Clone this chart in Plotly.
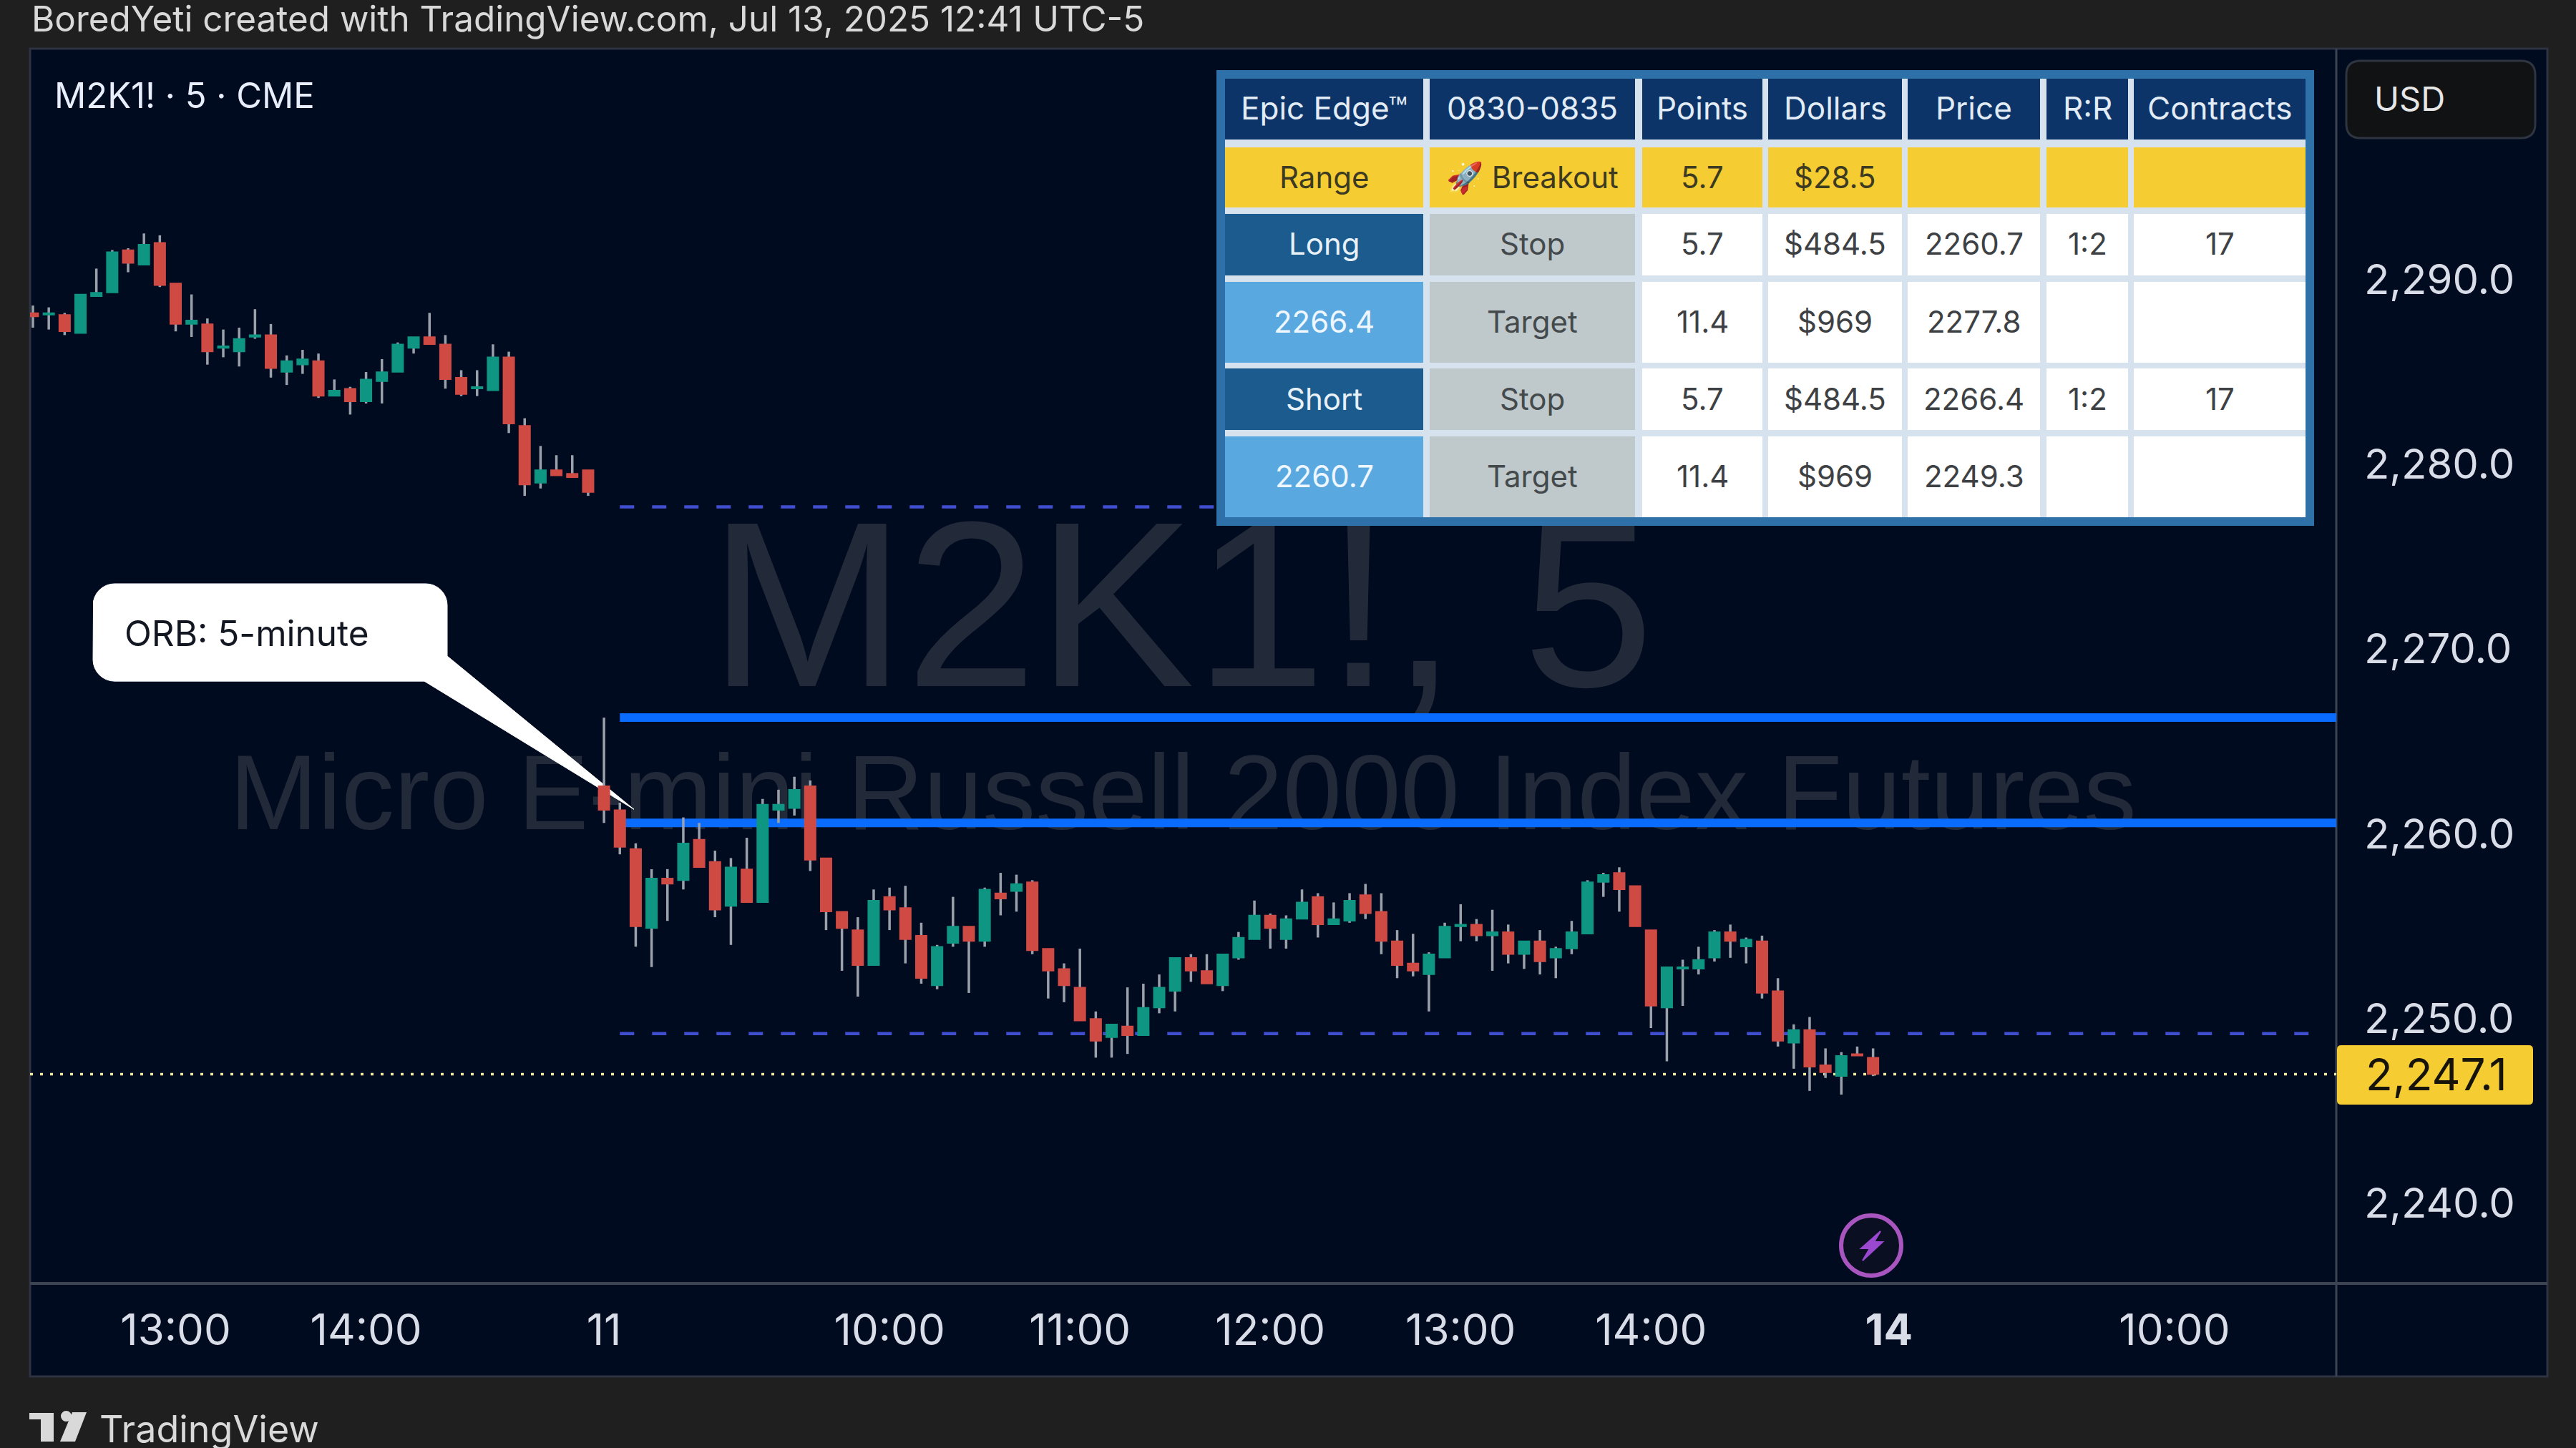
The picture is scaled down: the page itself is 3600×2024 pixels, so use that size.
import math
import plotly.graph_objects as go

bars = list(range(-9, 108))
opens = [2288.3,2288.2,2288.2,2287.2,2289.2,2289.4,2291.7,2290.9,2292.1,2289.9,2287.7,2287.7,2286.4,2286.2,2287.0,2287.1,2285.1,2285.5,2285.7,2283.8,2284.2,2283.5,2284.6,2285.1,2286.4,2287.0,2286.6,2284.8,2284.2,2284.1,2285.9,2282.2,2279.1,2279.8,2279.6,2279.8,
 2262.7,2261.4,2259.3,2255.0,2257.7,2257.6,2259.8,2258.6,2256.2,2258.2,2256.4,2261.4,2261.5,2262.7,2258.8,2255.9,2254.9,2253.0,2256.7,2256.1,2254.6,2251.9,2254.2,2255.1,2254.3,2256.9,2257.0,2257.5,2253.9,2252.8,2251.8,2250.1,2249.1,2249.7,2249.2,2250.7,2251.6,2253.4,2252.7,
 2251.9,2253.4,2254.4,2255.7,2254.4,2255.5,2256.7,2255.2,2255.4,2256.8,2255.9,2254.3,2253.1,2252.5,2253.4,2255.1,2255.2,2254.6,2254.8,2253.6,2254.3,2253.4,2253.9,2254.7,2257.5,2258.0,2257.3,2254.9,2250.7,2252.8,2252.8,2253.4,2254.8,2254.0,2254.3,2251.6,2248.8,2249.5,2247.6,2247.0,2248.2,2248.0]
highs = [2288.7,2288.6,2288.3,2289.3,2290.7,2291.7,2291.8,2292.6,2292.5,2289.9,2289.3,2288.0,2287.4,2287.5,2288.5,2287.7,2286.0,2286.3,2286.1,2284.7,2284.3,2285.1,2285.8,2286.7,2287.0,2288.3,2287.1,2285.2,2285.2,2286.6,2286.2,2282.6,2281.1,2280.6,2280.6,2279.8,
 2266.4,2261.8,2259.6,2258.2,2258.2,2261.0,2260.7,2259.2,2258.8,2259.9,2262.0,2262.5,2263.2,2263.0,2258.8,2255.9,2255.6,2257.1,2257.2,2257.3,2255.3,2254.1,2256.7,2255.1,2257.2,2258.0,2257.9,2257.6,2253.9,2253.1,2253.9,2250.5,2249.8,2251.8,2252.0,2252.5,2253.4,2253.6,2253.6,
 2253.6,2254.8,2256.5,2255.8,2255.7,2257.1,2256.9,2256.4,2256.9,2257.4,2256.9,2254.9,2254.7,2253.7,2255.3,2256.3,2255.5,2256.0,2255.2,2254.3,2254.9,2254.0,2255.4,2257.6,2258.0,2258.3,2257.3,2254.9,2252.9,2253.3,2254.0,2254.9,2255.2,2254.5,2254.6,2252.3,2249.8,2250.2,2248.5,2248.3,2248.6,2248.5]
lows = [2287.5,2287.4,2287.1,2287.2,2289.2,2289.4,2290.5,2290.9,2289.7,2287.3,2287.0,2285.5,2285.9,2285.4,2286.9,2284.8,2284.4,2285.0,2283.7,2283.8,2282.8,2283.4,2283.4,2285.1,2286.1,2286.6,2284.2,2283.8,2283.8,2284.1,2281.8,2278.4,2278.8,2279.5,2279.4,2278.4,
 2260.7,2259.0,2254.0,2252.9,2255.4,2257.1,2258.3,2255.6,2254.1,2256.4,2256.4,2260.7,2261.1,2258.1,2254.9,2252.7,2251.3,2253.0,2254.9,2253.1,2252.0,2251.7,2254.0,2251.5,2254.0,2255.7,2255.9,2253.6,2251.2,2251.0,2250.0,2248.0,2248.0,2248.2,2249.2,2250.4,2250.5,2252.1,2252.0,
 2251.6,2253.3,2254.4,2253.9,2253.9,2255.5,2254.5,2255.2,2255.3,2255.5,2253.6,2252.3,2252.4,2250.5,2253.4,2254.3,2254.3,2252.7,2253.1,2252.8,2252.5,2252.3,2253.6,2254.7,2256.7,2255.9,2255.1,2249.6,2247.8,2250.8,2252.5,2253.2,2253.4,2253.1,2251.2,2248.6,2247.4,2246.2,2246.9,2246.0,2248.1,2247.0]
closes = [2288.1,2288.3,2287.3,2289.3,2289.4,2291.6,2291.0,2292.0,2289.8,2287.7,2287.9,2286.2,2286.5,2286.9,2287.1,2285.3,2285.7,2285.8,2283.8,2284.1,2283.5,2284.7,2285.1,2286.6,2287.0,2286.6,2284.7,2283.9,2284.3,2285.9,2282.3,2279.0,2279.8,2279.5,2279.4,2278.6,
 2261.4,2259.4,2255.1,2257.7,2257.4,2259.6,2258.3,2256.0,2258.3,2256.4,2261.7,2261.7,2262.5,2258.7,2255.9,2255.0,2253.0,2256.5,2256.0,2254.4,2252.3,2254.0,2255.1,2254.3,2257.1,2256.6,2257.4,2253.8,2252.7,2251.9,2250.0,2248.9,2249.8,2249.2,2250.7,2251.8,2253.4,2252.7,2252.0,
 2253.6,2254.5,2255.7,2255.0,2255.5,2256.4,2255.2,2255.5,2256.5,2255.8,2254.3,2253.0,2252.7,2253.6,2255.1,2255.2,2254.6,2254.8,2253.6,2254.3,2253.2,2253.9,2254.8,2257.5,2257.9,2257.1,2255.1,2250.8,2252.9,2252.9,2253.3,2254.8,2254.3,2254.4,2251.5,2248.9,2249.5,2247.5,2247.2,2248.1,2248.1,2247.1]

range_high = 2266.4
range_low = 2260.7
long_target = 2277.8
short_target = 2249.3
last_price = 2247.1

time_tick_bars = [0, 12, 27, 45, 57, 69, 81, 93, 108, 126]
time_tick_text = ["13:00", "14:00", "11", "10:00", "11:00", "12:00", "13:00", "14:00", "<b>14</b>", "10:00"]
price_ticks = [2240, 2250, 2260, 2270, 2280, 2290]

table_header = ["Epic Edge™", "0830-0835", "Points", "Dollars", "Price", "R:R", "Contracts"]
table_rows = [
    ["Range", "🚀 Breakout", "5.7", "$28.5", "", "", ""],
    ["Long", "Stop", "5.7", "$484.5", "2260.7", "1:2", "17"],
    ["2266.4", "Target", "11.4", "$969", "2277.8", "", ""],
    ["Short", "Stop", "5.7", "$484.5", "2266.4", "1:2", "17"],
    ["2260.7", "Target", "11.4", "$969", "2249.3", "", ""],
]

title_text = "BoredYeti created with TradingView.com, Jul 13, 2025 12:41 UTC-5"
legend_text = "M2K1! · 5 · CME"
watermark_big = "M2K1!, 5"
watermark_small = "Micro E-mini Russell 2000 Index Futures"
callout_text = "ORB: 5-minute"

W, H = 3600, 2024
FONT = "Inter"
PANE = "#000b20"
OUTER = "#1f1f1f"
AXIS_LINE = "#3c4452"
TEXT = "#d8dde8"

def px(x): return x / W
def py(y): return 1 - y / H
def bx(x): return (x - 245.5) / 22.17      # pixel -> bar
def by(y): return 2240 + (1685 - y) / 25.8  # pixel -> price

shapes = []
ann = []

def rect(x0, y0, x1, y1, fill, layer="above", line=None, lw=0):
    shapes.append(dict(type="rect", xref="paper", yref="paper", x0=px(x0), x1=px(x1), y0=py(y1), y1=py(y0),
                       fillcolor=fill, line=dict(width=lw, color=line or fill), layer=layer))

def path(pts, fill, layer="above", lw=0):
    d = "M" + " L".join(f"{px(a):.5f},{py(b):.5f}" for a, b in pts) + " Z"
    shapes.append(dict(type="path", xref="paper", yref="paper", path=d, fillcolor=fill,
                       line=dict(width=lw, color=fill), layer=layer))

def rrect(x0, y0, x1, y1, r, fill, layer="above", line=None, lw=0):
    d = (f"M{px(x0+r):.5f},{py(y0):.5f} L{px(x1-r):.5f},{py(y0):.5f} Q{px(x1):.5f},{py(y0):.5f} {px(x1):.5f},{py(y0+r):.5f} "
         f"L{px(x1):.5f},{py(y1-r):.5f} Q{px(x1):.5f},{py(y1):.5f} {px(x1-r):.5f},{py(y1):.5f} "
         f"L{px(x0+r):.5f},{py(y1):.5f} Q{px(x0):.5f},{py(y1):.5f} {px(x0):.5f},{py(y1-r):.5f} "
         f"L{px(x0):.5f},{py(y0+r):.5f} Q{px(x0):.5f},{py(y0):.5f} {px(x0+r):.5f},{py(y0):.5f} Z")
    shapes.append(dict(type="path", xref="paper", yref="paper", path=d, fillcolor=fill,
                       line=dict(width=lw, color=line or fill), layer=layer))

def label(x, y, text, size, color, anchor="center", family=FONT):
    ann.append(dict(xref="paper", yref="paper", x=px(x), y=py(y), text=text, showarrow=False, xanchor=anchor,
                    yanchor="middle", font=dict(family=family, size=size, color=color)))

# panes and frame
rect(42, 68, 3560, 1924, PANE, layer="below", line="#2d3340", lw=3)
shapes.append(dict(type="line", xref="paper", yref="paper", x0=px(42), x1=px(3560), y0=py(1794), y1=py(1794),
                   line=dict(color=AXIS_LINE, width=4), layer="below"))
shapes.append(dict(type="line", xref="paper", yref="paper", x0=px(3265), x1=px(3265), y0=py(68), y1=py(1924),
                   line=dict(color=AXIS_LINE, width=3), layer="below"))

# texts outside the plot
label(42, 26, title_text, 49.4, "#d9d9d9", anchor="left")
label(74, 133, legend_text, 49, "#e8eefc", anchor="left")
label(137, 1997, "TradingView", 52, "#d9d9d9", anchor="left")

# TradingView logo
rect(41, 1975, 75, 1984, "#d9d9d9")
rect(57, 1975, 75, 2015, "#d9d9d9")
shapes.append(dict(type="circle", xref="paper", yref="paper", x0=px(85), x1=px(100), y0=py(1987), y1=py(1972),
                   fillcolor="#d9d9d9", line=dict(width=0), layer="above"))
path([(101, 1974), (121, 1974), (105, 2015), (84, 2015)], "#d9d9d9")

# USD box
rrect(3279, 85, 3543, 193, 20, "#111214", line="#2f3540", lw=3)
label(3316, 138, "USD", 47, "#e6e6e6", anchor="left")

# last price tag
rrect(3266, 1461, 3540, 1544, 6, "#f5cd32")
label(3405, 1501, f"{last_price:,.1f}", 62, "#15130a")

# session-end icon
shapes.append(dict(type="circle", xref="paper", yref="paper", x0=px(2573), x1=px(2657), y0=py(1783), y1=py(1699),
                   fillcolor="#0a0f22", line=dict(width=6, color="#a855c0"), layer="below"))
path([(2628, 1721), (2601, 1745), (2613, 1745), (2603, 1762), (2631, 1736), (2619, 1736)], "#9a48d0", lw=2)

# table
col_edges = [(1712, 1989), (1998, 2285), (2295, 2463), (2471, 2658), (2666, 2851), (2860, 2974), (2982, 3222)]
row_edges = [(110, 195), (206, 290), (299, 385), (394, 507), (515, 601), (610, 723)]
rect(1700, 98, 3234, 735, "#2e71a8")
rect(1712, 110, 3222, 723, "#d6e3ee")
fills_col0 = ["#0d3468", "#f5cd32", "#1b5b8e", "#5aa8e0", "#1b5b8e", "#5aa8e0"]
text_col0 = ["#e2ecf7", "#3c3a22", "#e8f0f8", "#eef7ff", "#e8f0f8", "#eef7ff"]
all_rows = [table_header] + table_rows
for r, ((y0, y1), row) in enumerate(zip(row_edges, all_rows)):
    for c, ((x0, x1), txt) in enumerate(zip(col_edges, row)):
        if r == 0:
            fill, col = "#0d3468", "#e2ecf7"
        elif r == 1:
            fill, col = "#f5cd32", "#3c3a22"
        elif c == 0:
            fill, col = fills_col0[r], text_col0[r]
        elif c == 1:
            fill, col = "#bfc8cb", "#44494c"
        else:
            fill, col = "#ffffff", "#3e4144"
        rect(x0, y0, x1, y1, fill)
        if txt:
            label((x0 + x1) / 2, (y0 + y1) / 2 - 1, txt, 44 if r == 0 else 42, col)

# callout text
label(172, 885, callout_text, 49.5, "#131722", anchor="left")

# callout body as a filled outline, in chart units, under the candles
def arc(cx, cy, r, a0, a1, n=8):
    return [(cx + r * math.cos(math.radians(a0 + (a1 - a0) * k / n)),
             cy + r * math.sin(math.radians(a0 + (a1 - a0) * k / n))) for k in range(n + 1)]

cx0, cy0, cx1, cy1, cr = 130, 817, 625, 953, 30
callout_pts = (arc(cx1 - cr, cy0 + cr, cr, -90, 0) + [(cx1, 918), (886, 1132), (593, cy1)] +
               arc(cx0 + cr, cy1 - cr, cr, 90, 180) + arc(cx0 + cr, cy0 + cr, cr, 180, 270))
callout_pts.append(callout_pts[0])

wick_x, wick_y = [], []
for b, lo, hi in zip(bars, lows, highs):
    wick_x += [b, b, None]
    wick_y += [lo, hi, None]

fig = go.Figure()
fig.add_trace(go.Scatter(x=[63.4], y=[2271.3], mode="text", text=[watermark_big],
                         textfont=dict(family="Liberation Sans", size=330, color="#222a39"), hoverinfo="skip", showlegend=False))
fig.add_trace(go.Scatter(x=[63.5], y=[2261.8], mode="text", text=[watermark_small],
                         textfont=dict(family="Liberation Sans", size=148, color="#222a39"), hoverinfo="skip", showlegend=False))
for level in (long_target, short_target):
    fig.add_trace(go.Scatter(x=[28, 135], y=[level, level], mode="lines",
                             line=dict(color="#3f4fd0", width=4.5, dash="20px,25px"), hoverinfo="skip", showlegend=False))
for level in (range_high, range_low):
    fig.add_trace(go.Scatter(x=[28, 136.2], y=[level, level], mode="lines",
                             line=dict(color="#0a6cff", width=12), hoverinfo="skip", showlegend=False))
fig.add_trace(go.Scatter(x=[-9.18, 136.2], y=[last_price, last_price], mode="lines",
                         line=dict(color="#efe9a0", width=3.5, dash="4px,10px"), hoverinfo="skip", showlegend=False))
fig.add_trace(go.Scatter(x=[bx(a) for a, b in callout_pts], y=[by(b) for a, b in callout_pts], mode="lines",
                         fill="toself", fillcolor="#ffffff", line=dict(color="#ffffff", width=1), hoverinfo="skip", showlegend=False))
fig.add_trace(go.Scatter(x=wick_x, y=wick_y, mode="lines", connectgaps=False, zorder=1,
                         line=dict(color="#9aa1ab", width=3.5), hoverinfo="skip", showlegend=False))
fig.add_trace(go.Candlestick(x=bars, open=opens, close=closes, zorder=2,
                             high=[max(a, b) for a, b in zip(opens, closes)],
                             low=[min(a, b) for a, b in zip(opens, closes)], whiskerwidth=0,
                             increasing=dict(line=dict(color="#0e9683", width=1.5), fillcolor="#0e9683"),
                             decreasing=dict(line=dict(color="#d04a44", width=1.5), fillcolor="#d04a44"),
                             hoverinfo="skip", showlegend=False))

fig.update_layout(
    width=W, height=H, margin=dict(l=0, r=0, t=0, b=0), autosize=False,
    paper_bgcolor=OUTER, plot_bgcolor=PANE, showlegend=False, boxgap=0.3, boxgroupgap=0, boxmode="overlay",
    shapes=shapes, annotations=ann,
    xaxis=dict(domain=[px(42), px(3265)], range=[-9.18, 136.2], tickmode="array", tickvals=time_tick_bars,
               ticktext=time_tick_text, showgrid=False, zeroline=False, showline=False, ticks="",
               rangeslider=dict(visible=False), tickfont=dict(family=FONT, size=60, color=TEXT), ticklabelstandoff=25),
    yaxis=dict(domain=[py(1794), py(68)], range=[2235.78, 2302.6], side="right", tickmode="array", tickvals=price_ticks,
               tickformat=",.1f", showgrid=False, zeroline=False, showline=False, ticks="",
               tickfont=dict(family=FONT, size=58, color=TEXT), ticklabelstandoff=38, ticklabelshift=-3),
)
fig.write_html("out.html", config=dict(displayModeBar=False),
               post_script="document.body.style.margin='0';document.body.style.overflow='hidden';")
